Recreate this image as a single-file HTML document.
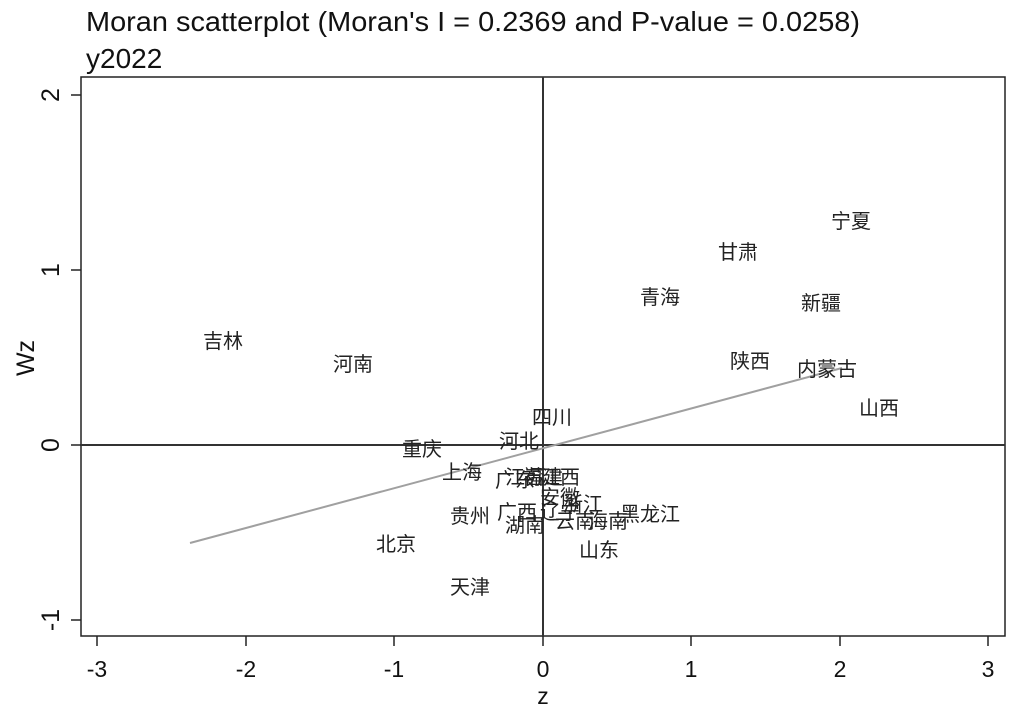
<!DOCTYPE html>
<html><head><meta charset="utf-8"><style>
body{margin:0;background:#fff;}
svg text{font-family:"Liberation Sans","Noto Sans CJK SC",sans-serif;}
.l{font-size:20px;fill:#222;}
</style></head><body>
<svg width="1014" height="712" xmlns="http://www.w3.org/2000/svg">
<rect width="1014" height="712" fill="#fff"/>
<text x="86" y="31" font-size="28" fill="#111" textLength="774" lengthAdjust="spacingAndGlyphs">Moran scatterplot (Moran's I = 0.2369 and P-value = 0.0258)</text>
<text x="86" y="68" font-size="28" fill="#111">y2022</text>
<rect x="81" y="77" width="924" height="559" fill="none" stroke="#222" stroke-width="1.5"/>
<line x1="543" y1="77" x2="543" y2="636" stroke="#333" stroke-width="2"/>
<line x1="81" y1="445" x2="1005" y2="445" stroke="#333" stroke-width="2"/>
<line x1="190" y1="543" x2="842" y2="368" stroke="#a0a0a0" stroke-width="2"/>
<g stroke="#222" stroke-width="1.5">
<line x1="97" y1="636" x2="97" y2="646"/><line x1="246" y1="636" x2="246" y2="646"/><line x1="394" y1="636" x2="394" y2="646"/><line x1="543" y1="636" x2="543" y2="646"/><line x1="691" y1="636" x2="691" y2="646"/><line x1="840" y1="636" x2="840" y2="646"/><line x1="988" y1="636" x2="988" y2="646"/>
<line x1="71" y1="95" x2="81" y2="95"/><line x1="71" y1="270" x2="81" y2="270"/><line x1="71" y1="445" x2="81" y2="445"/><line x1="71" y1="620" x2="81" y2="620"/>
</g>
<g font-size="23" fill="#111" text-anchor="middle">
<text x="97" y="677">-3</text><text x="246" y="677">-2</text><text x="394" y="677">-1</text><text x="543" y="677">0</text><text x="691" y="677">1</text><text x="840" y="677">2</text><text x="988" y="677">3</text>
<text x="543" y="704">z</text>
</g>
<g font-size="25" fill="#111" text-anchor="middle">
<text transform="translate(59,95) rotate(-90)">2</text>
<text transform="translate(59,270) rotate(-90)">1</text>
<text transform="translate(59,445) rotate(-90)">0</text>
<text transform="translate(59,620) rotate(-90)">-1</text>
<text transform="translate(34,358) rotate(-90)">Wz</text>
</g>
<g>
<text class="l" x="831" y="228">宁夏</text>
<text class="l" x="718" y="259">甘肃</text>
<text class="l" x="640" y="304">青海</text>
<text class="l" x="801" y="310">新疆</text>
<text class="l" x="203" y="348">吉林</text>
<text class="l" x="333" y="371">河南</text>
<text class="l" x="730" y="368">陕西</text>
<text class="l" x="797" y="376">内蒙古</text>
<text class="l" x="859" y="415">山西</text>
<text class="l" x="532" y="424">四川</text>
<text class="l" x="402" y="456">重庆</text>
<text class="l" x="499" y="448">河北</text>
<text class="l" x="442" y="479">上海</text>
<text class="l" x="495" y="487">广东</text>
<text class="l" x="505" y="484">江苏</text>
<text class="l" x="523" y="484">福建</text>
<text class="l" x="540" y="484">江西</text>
<text class="l" x="540" y="504">安徽</text>
<text class="l" x="563" y="511">浙江</text>
<text class="l" x="450" y="523">贵州</text>
<text class="l" x="497" y="519">广西</text>
<text class="l" x="540" y="519">辽宁</text>
<text class="l" x="505" y="532">湖南</text>
<text class="l" x="555" y="528">云南</text>
<text class="l" x="588" y="528">海南</text>
<text class="l" x="620" y="521">黑龙江</text>
<text class="l" x="376" y="551">北京</text>
<text class="l" x="579" y="557">山东</text>
<text class="l" x="450" y="594">天津</text>
</g>
</svg>
</body></html>
